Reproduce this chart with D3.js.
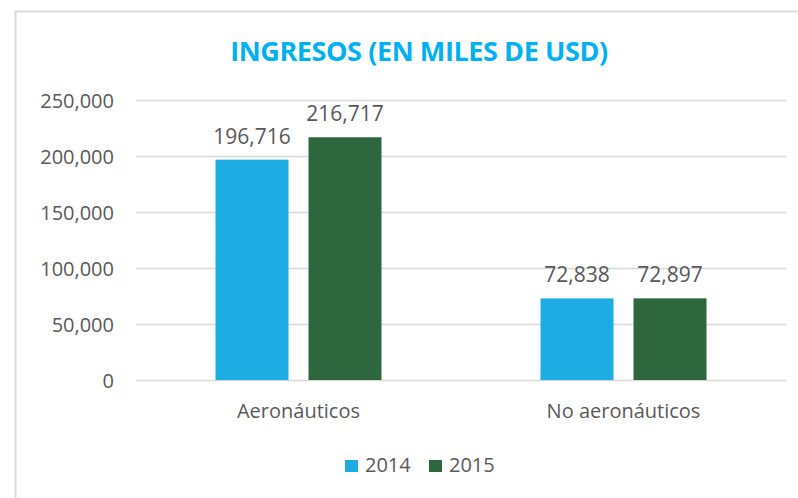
<!DOCTYPE html>
<html>
<head>
<meta charset="utf-8">
<script src="https://cdn.jsdelivr.net/npm/d3@7"></script>
<style>
  body { margin: 0; background: #fff; }
  text { font-family: "Open Sans", sans-serif; fill: #595959; }
</style>
</head>
<body>
<script>
//data for the chart
var categories = ["Aeronáuticos", "No aeronáuticos"];
var years = ["2014", "2015"];
var values2014 = [196716, 72838];
var values2015 = [216717, 72897];
var yTicks = [0, 50000, 100000, 150000, 200000, 250000];
var colors = ["#1eade3", "#2e673e"];

window.onload = function(){

    var w = 798, h = 498;

    var svg = d3.select("body")
        .append("svg")
        .attr("width", w)
        .attr("height", h);

    //outer frame (runs past the right and bottom edge)
    svg.append("rect")
        .attr("x", 15.5)
        .attr("y", 11.5)
        .attr("width", 800)
        .attr("height", 500)
        .style("fill", "none")
        .style("stroke", "#d9d9d9")
        .style("stroke-width", 2);

    //scales
    var x0 = d3.scaleBand()
        .domain(categories)
        .range([136, 786]);

    var x1 = d3.scaleBand()
        .domain(years)
        .range([79.5, 245.5])
        .paddingInner(20 / 93);

    var y = d3.scaleLinear()
        .domain([0, 250000])
        .range([380, 100]);

    //gridlines
    svg.selectAll(".grid")
        .data(yTicks)
        .enter()
        .append("line")
        .attr("class", "grid")
        .attr("x1", 136)
        .attr("x2", 786)
        .attr("y1", function(d){ return y(d) + 0.5; })
        .attr("y2", function(d){ return y(d) + 0.5; })
        .style("stroke", "#d9d9d9")
        .style("stroke-width", 1.5);

    //y axis labels
    var fmt = d3.format(",");
    var yAxis = d3.axisLeft(y)
        .tickValues(yTicks)
        .tickFormat(fmt)
        .tickSize(0)
        .tickPadding(0);

    var axis = svg.append("g")
        .attr("transform", "translate(114, 0)")
        .call(yAxis)
        .attr("font-size", null)
        .attr("font-family", null);
    axis.select(".domain").remove();
    axis.selectAll("text")
        .attr("dy", "0.35em")
        .style("font-size", "20px")
        .style("fill", "#595959");

    //bar data
    var rows = categories.map(function(c, i){
        return { cat: c, vals: [
            { year: years[0], v: values2014[i] },
            { year: years[1], v: values2015[i] }
        ]};
    });

    var groups = svg.selectAll(".group")
        .data(rows)
        .enter()
        .append("g")
        .attr("class", "group")
        .attr("transform", function(d){ return "translate(" + x0(d.cat) + ",0)"; });

    groups.selectAll("rect")
        .data(function(d){ return d.vals; })
        .enter()
        .append("rect")
        .attr("x", function(d){ return x1(d.year); })
        .attr("width", x1.bandwidth())
        .attr("y", function(d){ return y(d.v); })
        .attr("height", function(d){ return y(0) - y(d.v); })
        .style("fill", function(d, i){ return colors[i]; });

    //value labels
    groups.selectAll(".val")
        .data(function(d){ return d.vals; })
        .enter()
        .append("text")
        .attr("class", "val")
        .attr("text-anchor", "middle")
        .attr("x", function(d){ return x1(d.year) + x1.bandwidth() / 2; })
        .attr("y", function(d){ return y(d.v) - 16; })
        .style("font-size", "21px")
        .text(function(d){ return fmt(d.v); });

    //category labels
    svg.selectAll(".cat")
        .data(categories)
        .enter()
        .append("text")
        .attr("class", "cat")
        .attr("text-anchor", "middle")
        .attr("x", function(d){ return x0(d) + x0.bandwidth() / 2; })
        .attr("y", 418)
        .style("font-size", "20px")
        .text(function(d){ return d; });

    //title
    svg.append("text")
        .attr("x", 419)
        .attr("y", 61)
        .attr("text-anchor", "middle")
        .style("font-size", "27px")
        .style("font-weight", "bold")
        .style("fill", "#00b0f0")
        .style("letter-spacing", "-0.4px")
        .text("INGRESOS (EN MILES DE USD)");

    //legend
    var legendX = [345, 429];
    var legend = svg.selectAll(".legend")
        .data(years)
        .enter()
        .append("g")
        .attr("class", "legend")
        .attr("transform", function(d, i){ return "translate(" + legendX[i] + ",460)"; });

    legend.append("rect")
        .attr("width", 13)
        .attr("height", 12)
        .style("fill", function(d, i){ return colors[i]; });

    legend.append("text")
        .attr("x", 20)
        .attr("y", 12)
        .style("font-size", "20px")
        .text(function(d){ return d; });
};
</script>
</body>
</html>
